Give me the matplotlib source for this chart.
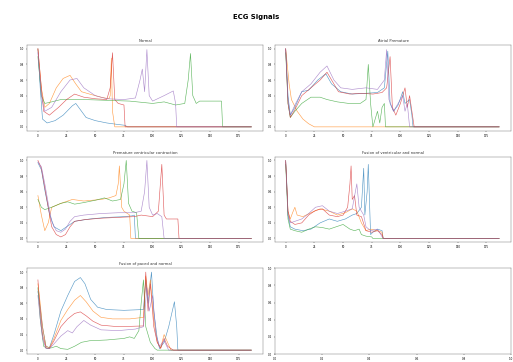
import numpy as np
import matplotlib
matplotlib.use('Agg')
import matplotlib.pyplot as plt

# sample index / amplitude pairs, one beat per colour
titles = ['Normal', 'Atrial Premature', 'Premature ventricular contraction',
          'Fusion of ventricular and normal', 'Fusion of paced and normal']
colors = ['tab:blue', 'tab:orange', 'tab:green', 'tab:red', 'tab:purple']
n_samples = 187

normal = [
    [(0, 1.0), (2, 0.5), (4, 0.1), (8, 0.05), (15, 0.08), (22, 0.15), (30, 0.27), (33, 0.3), (37, 0.22),
     (42, 0.12), (50, 0.08), (60, 0.05), (70, 0.03), (76, 0.02), (78, 0.0), (186, 0.0)],
    [(0, 1.0), (3, 0.5), (6, 0.25), (10, 0.3), (16, 0.5), (22, 0.62), (28, 0.66), (33, 0.55), (38, 0.45),
     (45, 0.42), (55, 0.38), (62, 0.36), (63, 0.4), (64, 0.88), (65, 0.2), (67, 0.0), (186, 0.0)],
    [(0, 0.9), (3, 0.4), (6, 0.3), (12, 0.32), (20, 0.35), (40, 0.35), (60, 0.34), (80, 0.33), (100, 0.3),
     (110, 0.32), (120, 0.28), (128, 0.3), (131, 0.6), (133, 0.94), (135, 0.4), (138, 0.3), (141, 0.33),
     (160, 0.33), (161, 0.0), (186, 0.0)],
    [(0, 1.0), (3, 0.5), (5, 0.2), (10, 0.15), (18, 0.25), (25, 0.35), (32, 0.42), (40, 0.38), (50, 0.36),
     (60, 0.35), (63, 0.5), (65, 0.95), (67, 0.35), (70, 0.3), (75, 0.28), (76, 0.0), (186, 0.0)],
    [(0, 0.95), (3, 0.4), (6, 0.2), (12, 0.25), (20, 0.45), (28, 0.6), (34, 0.62), (40, 0.5), (50, 0.4),
     (60, 0.36), (75, 0.35), (85, 0.37), (89, 0.6), (91, 0.74), (93, 0.45), (95, 0.99), (97, 0.4),
     (100, 0.33), (110, 0.4), (118, 0.46), (120, 0.3), (121, 0.0), (186, 0.0)],
]

atrial = [
    [(0, 1.0), (2, 0.4), (4, 0.15), (8, 0.25), (14, 0.45), (20, 0.47), (28, 0.6), (35, 0.68), (40, 0.55),
     (48, 0.45), (58, 0.42), (70, 0.43), (80, 0.44), (86, 0.5), (89, 0.97), (91, 0.3), (94, 0.2),
     (98, 0.28), (102, 0.45), (104, 0.3), (108, 0.35), (110, 0.15), (111, 0.0), (186, 0.0)],
    [(0, 1.0), (3, 0.55), (5, 0.35), (10, 0.2), (15, 0.1), (20, 0.04), (25, 0.0), (186, 0.0)],
    [(0, 0.95), (2, 0.3), (4, 0.12), (8, 0.2), (14, 0.3), (22, 0.38), (30, 0.38), (36, 0.35), (45, 0.32),
     (55, 0.3), (65, 0.3), (70, 0.35), (72, 0.8), (74, 0.3), (76, 0.0), (78, 0.1), (80, 0.2), (82, 0.05),
     (84, 0.25), (86, 0.3), (87, 0.0), (186, 0.0)],
    [(0, 1.0), (2, 0.3), (4, 0.12), (8, 0.22), (14, 0.4), (22, 0.5), (30, 0.6), (36, 0.7), (40, 0.6),
     (46, 0.45), (56, 0.42), (66, 0.43), (76, 0.42), (84, 0.44), (88, 0.5), (91, 0.9), (93, 0.25),
     (96, 0.15), (100, 0.3), (104, 0.5), (106, 0.25), (108, 0.4), (110, 0.2), (112, 0.0), (186, 0.0)],
    [(0, 1.0), (2, 0.35), (4, 0.15), (8, 0.28), (14, 0.45), (22, 0.55), (30, 0.7), (36, 0.78), (42, 0.6),
     (48, 0.5), (58, 0.48), (70, 0.5), (80, 0.48), (86, 0.6), (88, 0.99), (90, 0.35), (94, 0.2),
     (98, 0.3), (102, 0.4), (104, 0.2), (106, 0.3), (108, 0.0), (186, 0.0)],
]

pvc = [
    [(0, 0.97), (3, 0.88), (6, 0.62), (10, 0.32), (14, 0.15), (20, 0.1), (26, 0.16), (32, 0.22),
     (45, 0.25), (60, 0.27), (75, 0.28), (82, 0.29), (84, 0.3), (85, 0.0), (186, 0.0)],
    [(0, 0.55), (3, 0.3), (6, 0.1), (9, 0.2), (12, 0.4), (20, 0.45), (30, 0.5), (40, 0.48), (55, 0.5),
     (62, 0.52), (68, 0.55), (70, 0.7), (71, 0.93), (73, 0.4), (75, 0.35), (78, 0.32), (80, 0.3),
     (81, 0.0), (186, 0.0)],
    [(0, 0.5), (3, 0.4), (6, 0.37), (12, 0.4), (20, 0.45), (26, 0.47), (32, 0.44), (40, 0.46),
     (50, 0.49), (58, 0.52), (65, 0.48), (72, 0.5), (75, 0.7), (77, 1.0), (79, 0.45), (82, 0.35),
     (86, 0.33), (88, 0.0), (186, 0.0)],
    [(0, 1.0), (3, 0.9), (6, 0.65), (9, 0.4), (12, 0.15), (16, 0.05), (20, 0.02), (24, 0.05), (28, 0.15),
     (32, 0.22), (40, 0.24), (55, 0.26), (70, 0.27), (84, 0.28), (90, 0.3), (100, 0.28), (105, 0.35),
     (108, 0.95), (110, 0.3), (112, 0.25), (122, 0.25), (123, 0.0), (186, 0.0)],
    [(0, 0.98), (3, 0.92), (6, 0.7), (9, 0.45), (12, 0.22), (16, 0.1), (20, 0.08), (24, 0.12), (28, 0.22),
     (32, 0.28), (40, 0.3), (55, 0.32), (70, 0.33), (84, 0.33), (90, 0.35), (93, 0.6), (95, 1.0),
     (97, 0.4), (100, 0.3), (104, 0.32), (108, 0.28), (110, 0.0), (186, 0.0)],
]

fusion_vn = [
    [(0, 1.0), (1, 0.7), (2, 0.3), (4, 0.15), (8, 0.12), (15, 0.1), (22, 0.12), (30, 0.2), (38, 0.25),
     (45, 0.22), (52, 0.25), (58, 0.3), (62, 0.32), (66, 0.4), (68, 0.9), (69, 0.3), (71, 0.6),
     (72, 0.95), (74, 0.05), (76, 0.08), (80, 0.12), (84, 0.1), (85, 0.0), (186, 0.0)],
    [(0, 0.98), (2, 0.35), (4, 0.25), (6, 0.33), (8, 0.4), (10, 0.3), (15, 0.28), (22, 0.33), (30, 0.38),
     (38, 0.35), (45, 0.3), (52, 0.33), (58, 0.38), (62, 0.35), (66, 0.2), (70, 0.1), (74, 0.12),
     (80, 0.1), (84, 0.08), (85, 0.0), (186, 0.0)],
    [(0, 0.95), (2, 0.25), (4, 0.12), (8, 0.1), (14, 0.08), (20, 0.12), (26, 0.15), (32, 0.14),
     (38, 0.12), (44, 0.15), (50, 0.18), (56, 0.12), (60, 0.1), (64, 0.12), (66, 0.05), (70, 0.03),
     (75, 0.02), (76, 0.0), (186, 0.0)],
    [(0, 1.0), (2, 0.35), (4, 0.22), (8, 0.18), (14, 0.2), (20, 0.3), (26, 0.36), (32, 0.38), (38, 0.3),
     (45, 0.28), (50, 0.3), (54, 0.4), (56, 0.7), (57, 0.93), (58, 0.5), (60, 0.55), (62, 0.3),
     (66, 0.28), (70, 0.1), (75, 0.08), (80, 0.1), (84, 0.05), (85, 0.0), (186, 0.0)],
    [(0, 0.98), (2, 0.3), (4, 0.2), (8, 0.22), (14, 0.25), (20, 0.32), (26, 0.4), (32, 0.42), (38, 0.35),
     (45, 0.32), (52, 0.35), (58, 0.38), (62, 0.7), (64, 0.4), (66, 0.35), (68, 0.3), (70, 0.15),
     (74, 0.1), (80, 0.12), (85, 0.0), (186, 0.0)],
]

fusion_pn = [
    [(0, 0.75), (2, 0.55), (4, 0.3), (7, 0.05), (10, 0.03), (14, 0.2), (20, 0.5), (26, 0.7), (32, 0.88),
     (37, 0.93), (41, 0.85), (46, 0.65), (52, 0.55), (60, 0.52), (75, 0.51), (92, 0.52), (94, 0.9),
     (96, 0.6), (99, 1.0), (101, 0.5), (104, 0.15), (106, 0.02), (110, 0.1), (114, 0.3), (119, 0.62),
     (121, 0.3), (122, 0.0), (186, 0.0)],
    [(0, 0.85), (2, 0.6), (4, 0.3), (7, 0.05), (10, 0.03), (14, 0.15), (20, 0.38), (26, 0.52), (32, 0.64),
     (37, 0.7), (42, 0.62), (48, 0.5), (55, 0.42), (65, 0.4), (80, 0.4), (92, 0.42), (94, 0.95),
     (96, 0.7), (98, 0.9), (101, 0.4), (104, 0.1), (107, 0.03), (110, 0.2), (113, 0.1), (116, 0.0),
     (186, 0.0)],
    [(0, 0.8), (2, 0.4), (5, 0.05), (8, 0.02), (12, 0.03), (16, 0.05), (20, 0.02), (26, 0.01), (32, 0.05),
     (38, 0.1), (45, 0.12), (60, 0.13), (75, 0.15), (80, 0.17), (84, 0.15), (88, 0.25), (90, 0.6),
     (92, 0.9), (94, 0.3), (98, 0.1), (102, 0.02), (104, 0.0), (186, 0.0)],
    [(0, 0.9), (2, 0.5), (4, 0.2), (7, 0.03), (10, 0.02), (14, 0.12), (20, 0.3), (26, 0.4), (32, 0.47),
     (37, 0.49), (42, 0.44), (48, 0.37), (55, 0.32), (70, 0.3), (92, 0.31), (94, 1.0), (96, 0.5),
     (98, 0.85), (101, 0.3), (104, 0.1), (107, 0.02), (110, 0.15), (113, 0.05), (118, 0.0),
     (186, 0.0)],
    [(0, 0.7), (2, 0.4), (4, 0.15), (7, 0.02), (10, 0.02), (14, 0.08), (20, 0.18), (26, 0.25), (30, 0.22),
     (34, 0.3), (40, 0.38), (46, 0.32), (55, 0.26), (70, 0.25), (85, 0.27), (92, 0.3), (95, 0.8),
     (97, 0.5), (100, 0.7), (103, 0.2), (106, 0.05), (110, 0.12), (114, 0.0), (186, 0.0)],
]

classes = [normal, atrial, pvc, fusion_vn, fusion_pn]

fig, axes = plt.subplots(3, 2, figsize=(15.39, 10.86))
plt.subplots_adjust(left=0.053, right=0.996, top=0.876, bottom=0.022, hspace=0.30, wspace=0.05)
fig.suptitle('ECG Signals', fontsize=15, fontweight='bold', y=0.962)

for i, ax in enumerate(axes.flat):
    ax.tick_params(labelsize=6, length=3)
    for s in ax.spines.values():
        s.set_color('#555555')
    if i >= len(classes):
        continue
    for beat, c in zip(classes[i], colors):
        xs = [p[0] for p in beat]
        ys = [p[1] for p in beat]
        ax.plot(xs, ys, color=c, linewidth=1.3, alpha=0.75)
    ax.set_title(titles[i], fontsize=8, color='#333333')
    ax.set_xlim(-0.05 * n_samples, 1.05 * n_samples)
    ax.set_xticks([0, 25, 50, 75, 100, 125, 150, 175])
    ax.set_ylim(-0.05, 1.05)

plt.savefig('out.png', dpi=100 / 3)
